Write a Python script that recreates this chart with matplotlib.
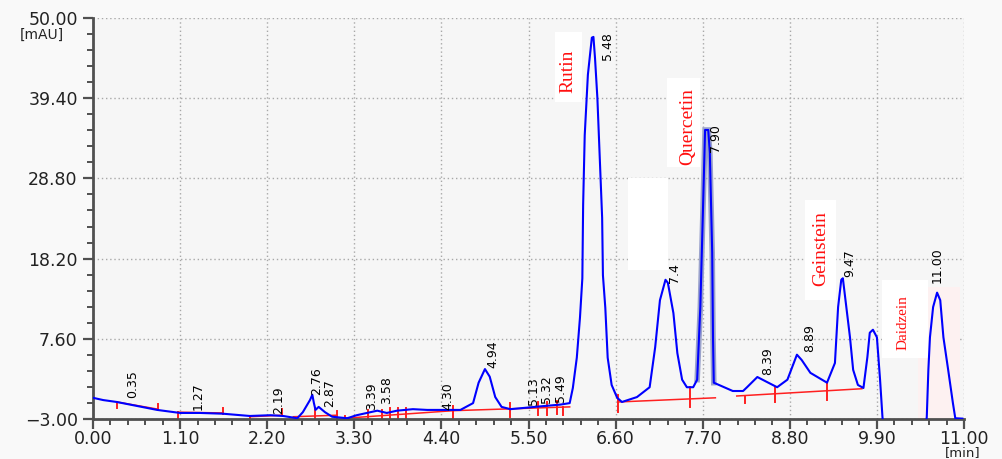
import matplotlib
matplotlib.use("Agg")
import matplotlib.pyplot as plt
from matplotlib.patches import Rectangle
from matplotlib.ticker import FuncFormatter, AutoMinorLocator

# ---------------- data ----------------
time_min = [0.00, 0.13, 0.30, 0.47, 0.81, 1.10, 1.35, 1.64, 1.98, 2.24, 2.40, 2.58, 2.65,
            2.74, 2.77, 2.79, 2.81, 2.85, 2.93, 3.02, 3.21, 3.33, 3.46, 3.59, 3.71, 3.84,
            4.04, 4.22, 4.38, 4.64, 4.80, 4.87, 4.95, 5.01, 5.08, 5.16, 5.27, 5.48, 5.68,
            5.90, 6.02, 6.06, 6.11, 6.15, 6.18, 6.19, 6.21, 6.25, 6.30, 6.32, 6.34, 6.37,
            6.40, 6.43, 6.44, 6.47, 6.50, 6.55, 6.62, 6.68, 6.87, 7.03, 7.10, 7.16, 7.23,
            7.26, 7.33, 7.38, 7.44, 7.50, 7.58, 7.63, 7.67, 7.70, 7.73, 7.77, 7.79, 7.82,
            7.83, 7.84, 8.08, 8.21, 8.26, 8.39, 8.51, 8.64, 8.77, 8.89, 8.95, 9.06, 9.27,
            9.37, 9.41, 9.45, 9.47, 9.56, 9.60, 9.66, 9.73, 9.78, 9.81, 9.85, 9.90, 9.94,
            9.97, 10.00, 10.50, 10.53, 10.55, 10.57, 10.61, 10.66, 10.70, 10.74, 10.80,
            10.86, 10.89, 10.98]
signal_mau = [-0.2, -0.5, -0.75, -1.1, -1.8, -2.2, -2.2, -2.3, -2.6, -2.5, -2.6, -2.9, -2.1,
              -0.5, 0.2, -0.9, -1.8, -1.4, -2.1, -2.7, -2.9, -2.5, -2.2, -1.9, -2.2, -1.9,
              -1.7, -1.8, -1.8, -1.8, -0.9, 1.8, 3.6, 2.6, -0.1, -1.4, -1.7, -1.5, -1.3,
              -1.1, -0.9, 1.1, 5.1, 10.4, 15.6, 25.3, 34.5, 42.5, 47.4, 47.5, 44.7, 39.4,
              31.5, 23.6, 16.0, 11.7, 5.1, 1.5, -0.2, -0.75, -0.1, 1.2, 6.5, 12.7, 15.4,
              15.0, 11.0, 5.7, 2.2, 1.2, 1.2, 2.2, 11.8, 23.3, 35.2, 35.2, 32.2, 19.0,
              7.8, 1.8, 0.7, 0.7, 1.2, 2.55, 1.9, 1.2, 2.2, 5.5, 4.8, 3.1, 1.8,
              4.4, 11.8, 15.4, 15.6, 7.8, 3.5, 1.5, 1.1, 5.2, 8.4, 8.8, 7.8, 2.2,
              -2.7, -6.0, -6.0, -2.7, 3.5, 7.8, 11.8, 13.7, 12.7, 7.8, 3.5,
              -0.9, -2.9, -2.95]

# integration baselines: (t_start, y_start, t_end, y_end)
baseline_segments = [
    (0.30, -0.75, 0.82, -1.7),
    (1.07, -2.1, 1.64, -2.2),
    (1.98, -2.7, 2.39, -2.5),
    (2.53, -2.7, 3.08, -2.5),
    (3.18, -2.9, 4.55, -1.9),
    (4.55, -1.9, 6.02, -1.4),
    (6.63, -0.75, 7.86, -0.2),
    (8.13, 0.04, 9.71, 1.0),
]
# peak boundary marks: (t, y_low, y_high)
baseline_marks = [
    (0.30, -1.55, -0.75), (0.82, -1.8, -1.0), (1.07, -3.0, -2.07), (1.64, -2.34, -1.55),
    (1.98, -3.0, -2.6), (2.39, -2.5, -1.7), (2.80, -3.0, -1.55), (3.08, -2.9, -1.9),
    (3.18, -3.0, -2.6), (3.47, -3.0, -1.8), (3.65, -3.0, -1.8), (3.75, -3.0, -1.6),
    (3.85, -3.0, -1.6), (3.95, -3.0, -1.55), (4.55, -3.0, -1.3), (5.27, -2.7, -0.9),
    (5.62, -2.5, -0.75), (5.73, -2.5, -0.75), (5.86, -2.4, -0.6), (5.94, -2.5, -1.4),
    (6.63, -2.07, 0.17), (7.54, -1.4, 1.23), (8.23, -0.9, 0.04), (8.61, -0.75, 1.2),
    (9.27, -0.5, 1.76),
]

# retention-time labels: (text, t, y_bottom)
peak_labels = [
    ("0.35", 0.50, -0.22), ("1.27", 1.33, -1.81), ("2.19", 2.34, -2.34),
    ("2.76", 2.82, 0.17), ("2.87", 2.99, -1.41), ("3.39", 3.52, -1.81),
    ("3.58", 3.71, -1.0), ("4.30", 4.48, -1.81), ("4.94", 5.05, 3.74),
    ("5.13", 5.56, -1.15), ("5.32", 5.73, -0.89), ("5.49", 5.90, -0.75),
    ("5.48", 6.50, 44.4), ("7.4", 7.35, 15.0), ("7.90", 7.86, 32.3),
    ("8.39", 8.52, 2.8), ("8.89", 9.05, 5.86), ("9.47", 9.56, 15.8),
    ("11.00", 10.66, 15.0),
]

# compound names: (text, t, y_center, fontsize)
compound_labels = [
    ("Rutin", 6.00, 42.9, 14),
    ("Quercetin", 7.51, 35.6, 14),
    ("Geinstein", 9.19, 19.5, 14),
    ("Daidzein", 10.23, 9.8, 11),
]

x_ticks = [0.00, 1.10, 2.20, 3.30, 4.40, 5.50, 6.60, 7.70, 8.80, 9.90, 11.00]
y_ticks = [-3.00, 7.60, 18.20, 28.80, 39.40, 50.00]

# ---------------- figure ----------------
W, H = 1003, 459
fig = plt.figure(figsize=(W / 100, H / 100), dpi=100, facecolor="#f9f9f9")
ax = fig.add_axes([93 / W, 1 - 419 / H, (964 - 93) / W, (419 - 18) / H])
ax.set_facecolor("#f6f6f6")
ax.set_xlim(0, 11)
ax.set_ylim(-3, 50)

def px_rect(x0, y0, x1, y1, color="white", z=1.2):
    r = Rectangle((x0 / W, 1 - y1 / H), (x1 - x0) / W, (y1 - y0) / H,
                  transform=fig.transFigure, facecolor=color, edgecolor="none",
                  zorder=z)
    ax.add_patch(r)

# edited white / pink patches of the original picture
px_rect(918, 287, 960, 419, color="#fdf1f1")
px_rect(628, 178, 668, 270)
px_rect(555, 32, 582, 102)
px_rect(667, 78, 700, 167)
px_rect(805, 200, 836, 300)
px_rect(882, 280, 928, 358)

# grid
ax.set_axisbelow(True)
ax.grid(True, which="major", color="#a8a8a8", linestyle=(0, (1, 2)), linewidth=1.0)

# baselines
for t0, y0, t1, y1 in baseline_segments:
    ax.plot([t0, t1], [y0, y1], color="#ff2020", lw=1.1, zorder=2.5)
for t, ylo, yhi in baseline_marks:
    ax.plot([t, t], [ylo, yhi], color="#ff2020", lw=1.4, zorder=2.5)

# ghost trace around quercetin peak
q = [i for i, t in enumerate(time_min) if 7.60 <= t <= 7.86]
ax.plot([time_min[i] for i in q], [signal_mau[i] for i in q],
        color="#9aa2cc", lw=4.0, zorder=2.6, solid_joinstyle="miter")

# trace
ax.plot(time_min, signal_mau, color="#0000ff", lw=1.5, zorder=3)

# labels
for txt, t, yb in peak_labels:
    ax.text(t, yb, txt, rotation=90, ha="center", va="bottom",
            fontsize=9, color="black", family="DejaVu Sans", zorder=4)
for txt, t, yc, fs in compound_labels:
    ax.text(t, yc, txt, rotation=90, ha="center", va="center",
            fontsize=fs, color="#ff1010", family="Liberation Serif", zorder=4)

# axes styling
for s in ("top", "right"):
    ax.spines[s].set_visible(False)
for s in ("left", "bottom"):
    ax.spines[s].set_color("#505050")
    ax.spines[s].set_linewidth(2)
fmt = FuncFormatter(lambda v, p: f"{v:.2f}".replace("-", "\u2212"))
ax.set_xticks(x_ticks)
ax.set_yticks(y_ticks)
ax.xaxis.set_major_formatter(fmt)
ax.yaxis.set_major_formatter(fmt)
ax.xaxis.set_minor_locator(AutoMinorLocator(5))
ax.yaxis.set_minor_locator(AutoMinorLocator(5))
ax.tick_params(which="major", length=7, width=1.6, color="#505050",
               labelsize=12.5, labelcolor="#222222")
ax.tick_params(which="minor", length=4.5, width=1.4, color="#505050")
ax.tick_params(axis="x", which="major", pad=1)
ax.tick_params(axis="y", which="major", pad=4)

fig.text(42 / W, 1 - 35 / H, "[mAU]", ha="center", va="center",
         fontsize=10, color="#222222")
fig.text(963 / W, 1 - 453 / H, "[min]", ha="center", va="center",
         fontsize=9.5, color="#222222")

fig.savefig("out.png", dpi=100, facecolor=fig.get_facecolor())
